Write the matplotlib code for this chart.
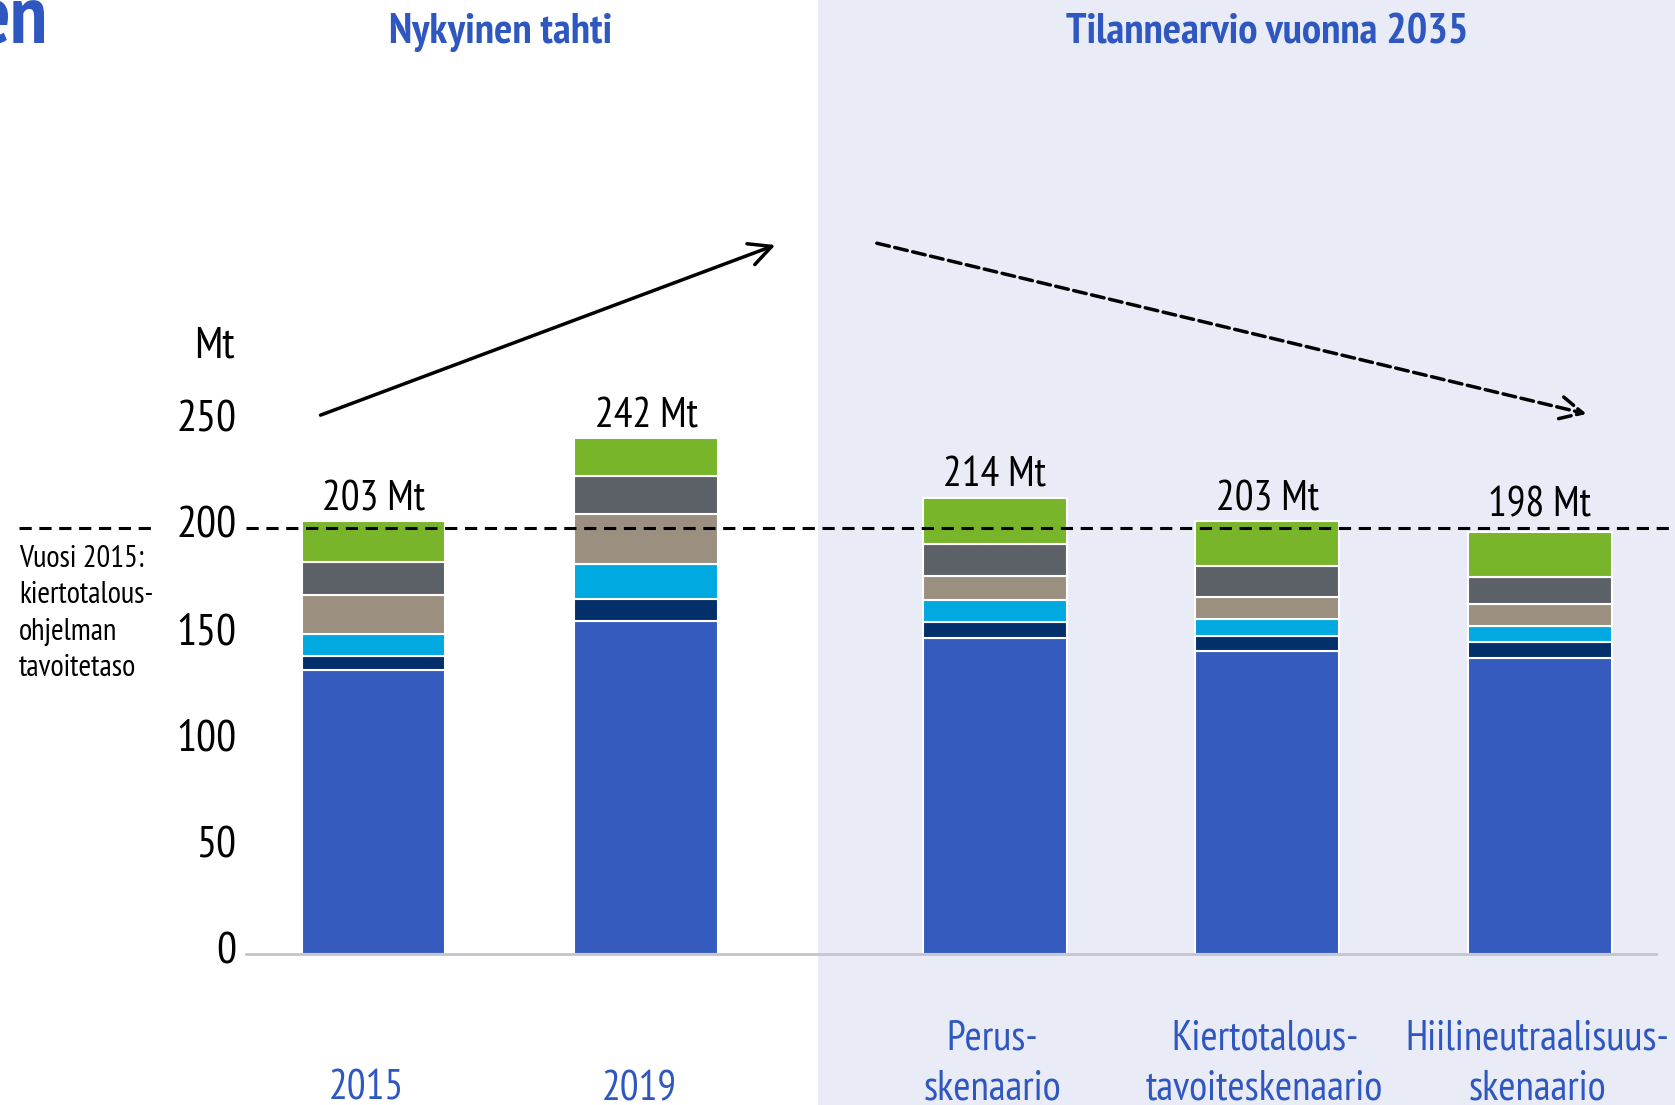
import matplotlib
matplotlib.use("Agg")
import matplotlib.pyplot as plt
import matplotlib.transforms as mtransforms
import numpy as np
from matplotlib.patches import Rectangle

plt.rcParams['font.family'] = ['PT Sans Narrow', 'Roboto Condensed', 'DejaVu Sans']

# data
categories = ["2015", "2019", "Perus-\nskenaario", "Kiertotalous-\ntavoiteskenaario",
              "Hiilineutraalisuus-\nskenaario"]
totals = [203, 242, 214, 203, 198]
blue = [133, 156, 148, 142, 139]
navy = [7, 10.5, 7.5, 7, 7.5]
light_blue = [10, 16.5, 10.5, 8, 7.5]
taupe = [18.5, 23.5, 11.5, 10.5, 10]
gray = [15.5, 17.5, 15, 14.5, 13]
green = [19, 18, 21.5, 21, 21]
target = 200
yticks = [0, 50, 100, 150, 200, 250]

series = [blue, navy, light_blue, taupe, gray, green]
colors = ["#355bbe", "#032f6b", "#00a9e0", "#9b8f80", "#5c6168", "#78b52a"]
title_blue = "#2f57c0"

W, H = 1675, 1105
fig = plt.figure(figsize=(W / 100, H / 100), dpi=100)
fig.patches.append(Rectangle((818 / W, 0), 1 - 818 / W, 1, transform=fig.transFigure,
                             facecolor="#e9ebf6", edgecolor="none", zorder=-1))

ax = fig.add_axes([246 / W, 151 / H, (1656 - 246) / W, 1 - 151 / H])
ax.set_facecolor("none")
ax.set_xlim(-0.468, 4.706)
ax.set_ylim(0, 954 / 2.132)

x = np.arange(5) + np.array([0, 0, 1, 1, 1]) * 0.28
bottom = np.zeros(5)
for vals, c in zip(series, colors):
    ax.bar(x, vals, bottom=bottom, width=0.528, color=c, edgecolor="white",
           linewidth=1.5, zorder=2)
    bottom += np.array(vals)

for xi, t in zip(x, totals):
    ax.text(xi, max(t, target) + 10, f"{t} Mt", ha="center", va="center",
            fontsize=30, color="black")

# target line
dash = (0, (4, 2.5))
ax.plot([-0.468, 4.706 + 0.1], [target, target], ls=dash, color="black",
        lw=2.2, zorder=3, clip_on=False)
ax.plot([(19 - 373.5) / 272.5, (155 - 373.5) / 272.5], [target, target],
        ls=dash, color="black", lw=2.2, zorder=3, clip_on=False)
ax.text((19 - 373.5) / 272.5, 192, "Vuosi 2015:\nkiertotalous-\nohjelman\ntavoitetaso",
        ha="left", va="top", fontsize=22, linespacing=1.38)

# axes styling
for s in ["left", "right", "top"]:
    ax.spines[s].set_visible(False)
ax.spines["bottom"].set_color("#c4c4cc")
ax.spines["bottom"].set_linewidth(2)
ax.set_xticks([])
ax.set_yticks(yticks)
ax.set_yticklabels([str(v) for v in yticks], fontsize=32)
ax.tick_params(axis="y", length=0, pad=7)
shift = mtransforms.ScaledTranslation(0, 0.055, fig.dpi_scale_trans)
for lab in ax.get_yticklabels():
    lab.set_transform(lab.get_transform() + shift)
ax.text((214 - 373.5) / 272.5, 285, "Mt", ha="center", va="center", fontsize=32)

# category labels
for xi, lab in zip(x, categories):
    lines = lab.split("\n")[::-1]
    dx = -0.025 if len(lines) == 1 else -0.01
    for k, line in enumerate(lines):
        ax.text(xi + dx, -63.5 + k * 23.5, line, ha="center", va="center", fontsize=30,
                color=title_blue, clip_on=False)

# arrows
ax.annotate("", xy=(1.484, 333.0), xytext=(-0.204, 252.3),
            arrowprops=dict(arrowstyle="->", color="black", lw=2.5,
                            mutation_scale=40), annotation_clip=False)
ax.annotate("", xy=(4.461, 253.0), xytext=(1.837, 333.7),
            arrowprops=dict(arrowstyle="->", color="black", lw=2.5, ls="--",
                            mutation_scale=40), annotation_clip=False)

# headers
fig.text(501 / W, 1 - 33 / H, "Nykyinen tahti", ha="center", va="center",
         fontsize=31, fontweight="bold", color=title_blue)
fig.text(1267 / W, 1 - 33 / H, "Tilannearvio vuonna 2035", ha="center", va="center",
         fontsize=31, fontweight="bold", color=title_blue)
fig.text(48 / W, 1 - 22 / H, "en", ha="right", va="center", fontsize=60,
         fontweight="bold", color=title_blue)

fig.savefig("out.png", dpi=100)
